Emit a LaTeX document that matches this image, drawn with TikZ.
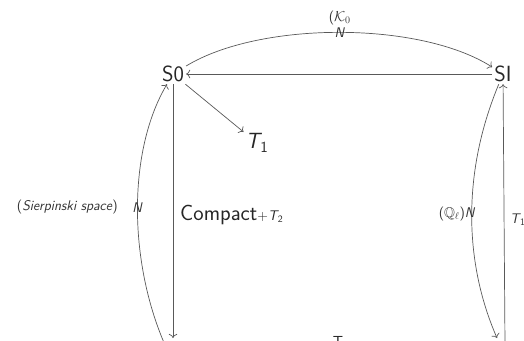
\documentclass[tikz,border=0pt]{standalone}
\usepackage{amsmath,amssymb}
\usepackage{fontspec}
\usepackage{tikz}
\usetikzlibrary{arrows.meta,positioning}

\begin{document}
\begin{tikzpicture}[x=1pt, y=-1pt,
  obj/.style={font=\sffamily\fontsize{22}{26}\selectfont, text=black!85, inner sep=2pt},
  lbl/.style={font=\sffamily\fontsize{14}{17}\selectfont, text=black!80, inner sep=1pt},
  arrow/.style={-{To[scale=1.3]}, line width=0.7pt, draw=black!65},
]
\clip (0,0) rectangle (524,340);

\node[obj] (S0) at (173,74) {S0};
\node[obj] (SI) at (503,74) {SI};
\node[obj] (T1) at (257,143) {\textit{T}\kern-2pt\textsubscript{1}};
\node[obj, font=\sffamily\fontsize{16}{18}\selectfont] (T) at (338,342) {T};

\coordinate (lb) at (165,345);
\coordinate (lv) at (173,338);
\coordinate (rb) at (497,338);
\coordinate (rv) at (505,345);

\draw[arrow] (S0) .. controls (260,21) and (420,21) .. (SI)
  node[lbl, pos=0.5] (nk) {\textit{N}};
\node[lbl, above=0pt of nk] (k0) {($\mathcal{K}_0$};
\draw[arrow] (SI) -- (S0);
\draw[arrow] (S0) -- (T1);
\draw[arrow] (S0) -- (lv);
\draw[arrow] (lb) .. controls (128,260) and (128,150) .. (S0)
  node[lbl, pos=0.5] (nl) {\textit{N}};
\node[lbl, left=12pt of nl] (sier) {(\textit{Sierpinski space})};
\node[obj, anchor=west] (cpt) at (178,215) {Compact{\fontsize{14}{17}\selectfont+\textit{T}\kern-1pt\textsubscript{2}}};
\draw[arrow] (SI) .. controls (463,170) and (463,260) .. (rb)
  node[lbl, pos=0.5, anchor=east, xshift=5pt] (nr) {($\mathbb{Q}_\ell$)\textit{N}};
\draw[arrow] (rv) -- (SI);
\node[lbl, anchor=west] (t1r) at (509,220) {\textit{T}\kern-1pt\textsubscript{1}};

\end{tikzpicture}
\end{document}
